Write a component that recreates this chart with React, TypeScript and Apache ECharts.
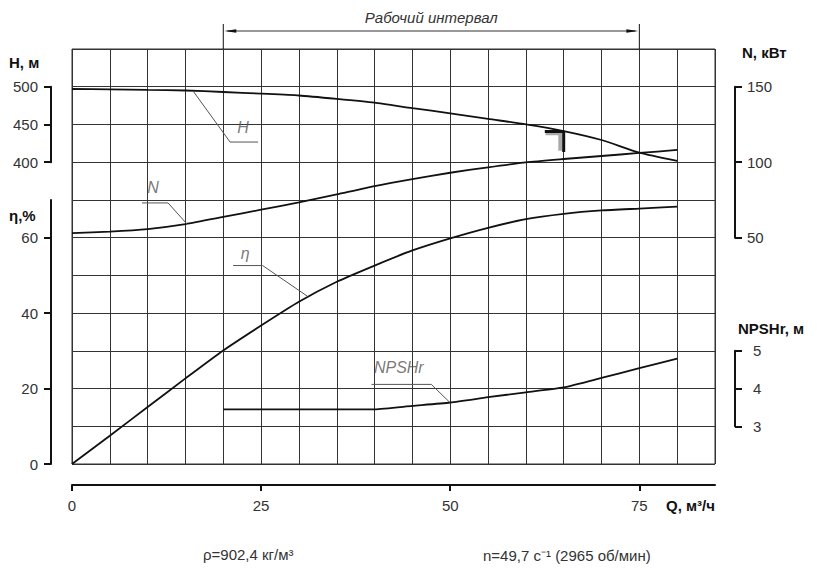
import React, { useEffect, useRef } from "react";
import * as echarts from "echarts";

// Flow rate, m3/h
const Q = [0, 5, 10, 15, 20, 25, 30, 35, 40, 45, 50, 55, 60, 65, 70, 75, 80];
// Head, m
const H = [497.0, 496.6, 495.7, 495.0, 493.0, 490.8, 488.4, 483.9, 478.8, 471.6, 464.8, 457.4, 450.2, 441.3, 429.4, 412.6, 401.6];
// Power, kW
const N = [53.0, 54.0, 55.7, 59.0, 63.7, 68.5, 73.3, 78.7, 84.2, 88.8, 93.0, 96.6, 99.9, 102.1, 104.1, 106.1, 108.1];
// Efficiency, %
const ETA = [0, 7.5, 15.1, 22.7, 30.1, 36.7, 43.0, 48.3, 52.6, 56.6, 59.8, 62.6, 64.9, 66.3, 67.2, 67.7, 68.2];
// NPSHr, m
const Q_NPSH = [20, 25, 30, 35, 40, 45, 50, 55, 60, 65, 70, 75, 80];
const NPSH = [3.45, 3.45, 3.45, 3.45, 3.45, 3.54, 3.63, 3.77, 3.9, 4.03, 4.28, 4.54, 4.79];

// Tick labels
const Q_TICKS = [0, 25, 50, 75];
const H_TICKS = [400, 450, 500];
const ETA_TICKS = [0, 20, 40, 60];
const N_TICKS = [50, 100, 150];
const NPSH_TICKS = [3, 4, 5];

// Working interval
const WORK_RANGE = [20, 75];

// Curve label leaders [Q, value]
const H_LEADER = [[16.1, 493.0], [20.9, 426.7], [24.6, 426.7]];
const H_LABEL = [22.6, 446.6];
const N_LEADER = [[9.25, 73.0], [12.7, 73.0], [15.2, 59.0]];
const N_LABEL = [10.7, 83.0];
const ETA_LEADER = [[21.3, 52.6], [25.2, 52.6], [31.1, 44.5]];
const ETA_LABEL = [22.9, 55.7];
const NPSH_LEADER = [[39.6, 4.11], [47.5, 4.11], [49.96, 3.63]];
const NPSH_LABEL = [43.2, 4.55];
// Tolerance mark on H curve
const H_MARK = [[62.5, 440.8], [65.0, 440.8], [65.0, 413.5]];
const H_MARK_SHADE = [[62.6, 438.2], [64.55, 438.2], [64.55, 415.0]];

const FONT = "'Liberation Sans', Arial, Helvetica, sans-serif";

export default function App() {
  const ref = useRef<HTMLDivElement>(null);

  useEffect(() => {
    if (!ref.current) return;
    const chart = echarts.init(ref.current, undefined, { renderer: "svg" });

    const L = 72, T = 49, W = 643, HGT = 415;
    const step = HGT / 11;

    const lineCol = "#333";
    const axisCol = "#111";
    const labelStyle = { fontSize: 15, color: "#333", fontFamily: FONT };

    const hiddenX = (gridIndex: number) => ({
      type: "value", gridIndex, min: 0, max: 1, show: false,
    });

    const bracketY = (gridIndex: number, min: number, max: number, ticks: number[], position: string, margin: number) => ({
      type: "value", gridIndex, min, max, position,
      axisLine: { show: true, onZero: false, lineStyle: { color: axisCol, width: 2 } },
      axisTick: { show: true, customValues: ticks, length: 7, lineStyle: { color: axisCol, width: 2 } },
      axisLabel: { show: true, customValues: ticks, margin, ...labelStyle },
      splitLine: { show: false },
    });

    const curve = (name: string, xs: number[], ys: number[], yAxisIndex: number) => ({
      name, type: "line", xAxisIndex: 0, yAxisIndex,
      data: xs.map((q, i) => [q, ys[i]]),
      symbol: "none", smooth: 0.2, silent: true,
      lineStyle: { color: "#111", width: 1.8 },
    });

    const leader = (pts: number[][], yAxisIndex: number) => ({
      type: "line", xAxisIndex: 0, yAxisIndex, data: pts,
      symbol: "none", silent: true,
      lineStyle: { color: "#555", width: 1 },
    });

    const curveLabel = (pos: number[], text: string, yAxisIndex: number) => ({
      type: "scatter", xAxisIndex: 0, yAxisIndex, data: [pos],
      symbolSize: 0, silent: true,
      label: {
        show: true, position: "inside", formatter: text,
        fontStyle: "italic", fontSize: 16, color: "#555", fontFamily: FONT,
      },
    });

    chart.setOption({
      animation: false,
      textStyle: { fontFamily: FONT },
      grid: [
        { left: L, top: T, width: W, height: HGT, show: true, borderColor: lineCol, borderWidth: 1 },
        { left: 51, top: T + step, width: 1, height: step * 2 },
        { left: 51, top: T + step * 4, width: 1, height: step * 7 },
        { left: 734, top: T + step, width: 1, height: step * 4 },
        { left: 734, top: T + step * 8, width: 1, height: step * 2 },
      ],
      xAxis: [
        {
          type: "value", gridIndex: 0, min: 0, max: 85, interval: 5,
          axisLine: { show: false }, axisTick: { show: false }, axisLabel: { show: false },
          splitLine: { show: true, lineStyle: { color: lineCol, width: 1 } },
        },
        {
          type: "value", gridIndex: 0, min: 0, max: 85, position: "bottom", offset: 21,
          axisLine: { show: true, onZero: false, lineStyle: { color: axisCol, width: 2 } },
          axisTick: { show: true, customValues: Q_TICKS, length: 6, lineStyle: { color: axisCol, width: 2 } },
          axisLabel: { show: true, customValues: Q_TICKS, margin: 13, ...labelStyle },
          splitLine: { show: false },
        },
        hiddenX(1), hiddenX(2), hiddenX(3), hiddenX(4),
      ],
      yAxis: [
        {
          type: "value", gridIndex: 0, min: 0, max: 110, interval: 10,
          axisLine: { show: false }, axisTick: { show: false }, axisLabel: { show: false },
          splitLine: { show: true, lineStyle: { color: lineCol, width: 1 } },
        },
        { type: "value", gridIndex: 0, min: 0, max: 550, show: false, splitLine: { show: false } },
        { type: "value", gridIndex: 0, min: -100, max: 175, show: false, splitLine: { show: false } },
        { type: "value", gridIndex: 0, min: 2, max: 13, show: false, splitLine: { show: false } },
        bracketY(1, 400, 500, H_TICKS, "left", 13),
        bracketY(2, 0, 70, ETA_TICKS, "left", 13),
        bracketY(3, 50, 150, N_TICKS, "right", 12),
        bracketY(4, 3, 5, NPSH_TICKS, "right", 18),
      ],
      series: [
        curve("H", Q, H, 1),
        curve("N", Q, N, 2),
        curve("η", Q, ETA, 0),
        curve("NPSHr", Q_NPSH, NPSH, 3),
        leader(H_LEADER, 1),
        leader(N_LEADER, 2),
        leader(ETA_LEADER, 0),
        leader(NPSH_LEADER, 3),
        curveLabel(H_LABEL, "H", 1),
        curveLabel(N_LABEL, "N", 2),
        curveLabel(ETA_LABEL, "η", 0),
        curveLabel(NPSH_LABEL, "NPSHr", 3),
        {
          type: "line", xAxisIndex: 0, yAxisIndex: 1, data: H_MARK_SHADE,
          symbol: "none", silent: true,
          lineStyle: { color: "#aaa", width: 4 },
        },
        {
          type: "line", xAxisIndex: 0, yAxisIndex: 1, data: H_MARK,
          symbol: "none", silent: true,
          lineStyle: { color: "#111", width: 3 },
        },
      ],
    });

    const x1 = chart.convertToPixel({ xAxisIndex: 0 }, WORK_RANGE[0]) as number;
    const x2 = chart.convertToPixel({ xAxisIndex: 0 }, WORK_RANGE[1]) as number;
    const ay = 31;
    const titleFont = `bold 15px ${FONT}`;
    const plainFont = `15px ${FONT}`;

    chart.setOption({
      graphic: [
        { type: "line", shape: { x1: x1, y1: 24, x2: x1, y2: T }, style: { stroke: "#111", lineWidth: 1 } },
        { type: "line", shape: { x1: x2, y1: 24, x2: x2, y2: T }, style: { stroke: "#111", lineWidth: 1 } },
        { type: "line", shape: { x1: x1 + 4, y1: ay, x2: x2 - 4, y2: ay }, style: { stroke: "#333", lineWidth: 1 } },
        { type: "polygon", shape: { points: [[x1 + 1, ay], [x1 + 13, ay - 1.8], [x1 + 13, ay + 1.8]] }, style: { fill: "#111" } },
        { type: "polygon", shape: { points: [[x2 - 1, ay], [x2 - 13, ay - 1.8], [x2 - 13, ay + 1.8]] }, style: { fill: "#111" } },
        {
          type: "text",
          style: { text: "Рабочий интервал", x: (x1 + x2) / 2, y: 17, textAlign: "center", textVerticalAlign: "middle", font: `italic 15px ${FONT}`, fill: "#333" },
        },
        { type: "text", style: { text: "H, м", x: 9, y: 62, textVerticalAlign: "middle", font: titleFont, fill: "#111" } },
        { type: "text", style: { text: "η,%", x: 9, y: 215, textVerticalAlign: "middle", font: titleFont, fill: "#111" } },
        { type: "text", style: { text: "N, кВт", x: 742, y: 52, textVerticalAlign: "middle", font: titleFont, fill: "#111" } },
        { type: "text", style: { text: "NPSHr, м", x: 738, y: 328, textVerticalAlign: "middle", font: titleFont, fill: "#111" } },
        { type: "text", style: { text: "Q, м³/ч", x: 715, y: 505, textAlign: "right", textVerticalAlign: "middle", font: titleFont, fill: "#111" } },
        { type: "text", style: { text: "ρ=902,4 кг/м³", x: 203, y: 554, textVerticalAlign: "middle", font: plainFont, fill: "#333" } },
        { type: "text", style: { text: "n=49,7 с⁻¹ (2965 об/мин)", x: 483, y: 555, textVerticalAlign: "middle", font: plainFont, fill: "#333" } },
      ],
    });

    return () => chart.dispose();
  }, []);

  return (
    <div
      ref={ref}
      style={{ position: "fixed", left: 0, top: 0, width: 817, height: 570, background: "#fff" }}
    />
  );
}
